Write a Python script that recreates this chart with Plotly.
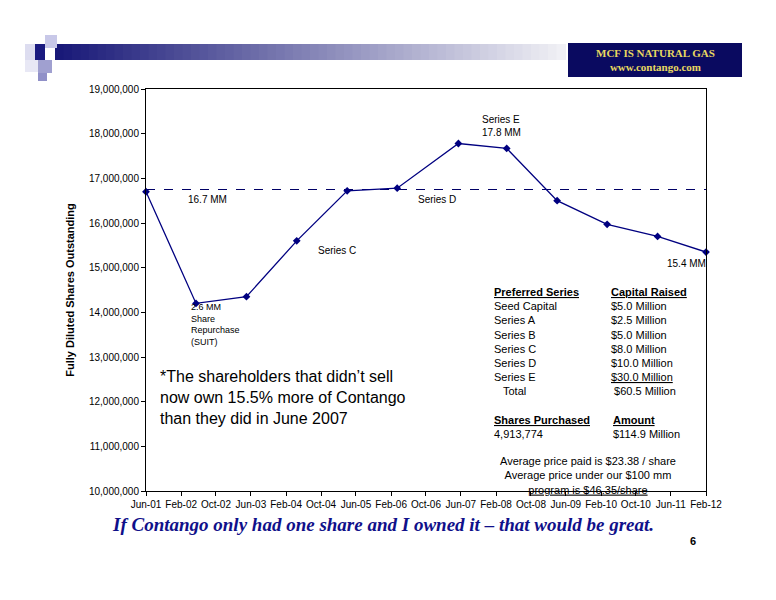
import plotly.graph_objects as go

dates = ["2001-06-01","2002-05-15","2003-05-01","2004-04-15","2005-04-01","2006-03-15",
         "2007-05-15","2008-04-15","2009-04-01","2010-03-15","2011-03-01","2012-02-01"]
shares = [16700000,14200000,14350000,15600000,16720000,16780000,
          17780000,17670000,16500000,15970000,15700000,15350000]
tick_dates = ["2001-06-01","2002-02-01","2002-10-01","2003-06-01","2004-02-01","2004-10-01",
              "2005-06-01","2006-02-01","2006-10-01","2007-06-01","2008-02-01","2008-10-01",
              "2009-06-01","2010-02-01","2010-10-01","2011-06-01","2012-02-01"]
tick_labels = ["Jun-01","Feb-02","Oct-02","Jun-03","Feb-04","Oct-04","Jun-05","Feb-06","Oct-06",
               "Jun-07","Feb-08","Oct-08","Jun-09","Feb-10","Oct-10","Jun-11","Feb-12"]
y_ticks = [10000000,11000000,12000000,13000000,14000000,15000000,16000000,17000000,18000000,19000000]
baseline = 16750000

fig = go.Figure()
fig.add_trace(go.Scatter(x=[dates[0], dates[-1]], y=[baseline, baseline], mode="lines",
                         line=dict(color="#000066", width=1, dash="dash"), hoverinfo="skip"))
fig.add_trace(go.Scatter(x=dates, y=shares, mode="lines+markers", cliponaxis=False,
                         line=dict(color="#000080", width=1.3),
                         marker=dict(symbol="diamond", size=6, color="#000080")))

F = "Liberation Sans, Arial"
fig.update_layout(
    width=760, height=584, showlegend=False, paper_bgcolor="white", plot_bgcolor="white",
    margin=dict(l=138, r=62, t=81, b=101, autoexpand=False),
    font=dict(family=F, size=10, color="black"),
    xaxis=dict(type="date", range=["2001-06-01","2012-02-01"], tickvals=tick_dates, ticktext=tick_labels,
               tickangle=0, showgrid=False, showline=True, linecolor="black", mirror=True, automargin=False,
               ticks="outside", ticklen=4, tickcolor="black", tickfont=dict(size=10)),
    yaxis=dict(range=[10000000,19000000], tickvals=y_ticks, tickformat=",d", showgrid=False, automargin=False,
               showline=True, linecolor="black", mirror=True, ticks="outside", ticklen=4,
               tickcolor="black", tickfont=dict(size=10),
               title=dict(text="<b>Fully Diluted Shares Outstanding</b>", font=dict(size=11), standoff=12)),
)

# screenshot pixel coords -> paper coords (page body has 8px margin)
def py(p):
    return (491 - p) / 402
def px(p):
    return (p - 146) / 560

n = 60
for i in range(n):
    t = i / (n - 1)
    r = int(25 + (240 - 25) * t); g = int(25 + (240 - 25) * t); b = int(120 + (245 - 120) * t)
    fig.add_shape(type="rect", xref="paper", yref="paper",
                  x0=px(55 + (565 - 55) * i / n), x1=px(55 + (565 - 55) * (i + 1) / n + 1),
                  y0=py(60), y1=py(44), line_width=0, fillcolor=f"rgb({r},{g},{b})")
for (a, b_, c, d, col) in [(25, 35, 44, 60, "#ddddf0"), (35, 45, 44, 60, "#1a1a80"), (45, 57, 35, 48, "#c8c8e8"),
                           (25, 38, 60, 72, "#e8e8f5"), (38, 52, 60, 73, "#a0a0d0"), (38, 47, 73, 81, "#9090c8")]:
    fig.add_shape(type="rect", xref="paper", yref="paper", x0=px(a), x1=px(b_), y0=py(d), y1=py(c),
                  line_width=0, fillcolor=col)
fig.add_shape(type="rect", xref="paper", yref="paper", x0=px(568), x1=px(742), y0=py(77), y1=py(43),
              line_width=0, fillcolor="#0a0a60")
fig.add_annotation(xref="paper", yref="paper", x=px(655), y=py(60), showarrow=False,
                   xanchor="center", yanchor="middle", align="center",
                   text="<b>MCF IS NATURAL GAS</b><br><b>www.contango.com</b>",
                   font=dict(family="Liberation Serif", size=11, color="#e8d860"))

def ann(x, y, text, size=10, align="left", xanchor="left", **kw):
    fig.add_annotation(xref="paper", yref="paper", x=px(x), y=py(y), text=text, showarrow=False,
                       align=align, xanchor=xanchor, yanchor="middle", font=dict(size=size, family=F, **kw))

ann(186, 199, "16.7 MM")
ann(416, 199, "Series D")
ann(480, 126, "Series E<br>17.8 MM")
ann(316, 250, "Series C")
ann(708, 263, "15.4 MM", xanchor="right")
ann(189, 324, "2.6 MM<br>Share<br>Repurchase<br>(SUIT)", size=9)
ann(158, 397, "*The shareholders that didn’t sell<br>now own 15.5% more of Contango<br>than they did in June 2007", size=16)

rows = [("<b><u>Preferred Series</u></b>", "<b><u>Capital Raised</u></b>"),
        ("Seed Capital", "$5.0 Million"), ("Series A", "$2.5 Million"), ("Series B", "$5.0 Million"),
        ("Series C", "$8.0 Million"), ("Series D", "$10.0 Million"), ("Series E", "<u>$30.0 Million</u>"),
        ("   Total", " $60.5 Million")]
for i, (a, b_) in enumerate(rows):
    y = 292 + i * 14.2
    ann(492, y, a, size=11); ann(609, y, b_, size=11)
ann(492, 420, "<b><u>Shares Purchased</u></b>", size=11); ann(611, 420, "<b><u>Amount</u></b>", size=11)
ann(492, 434, "4,913,774", size=11); ann(611, 434, "$114.9 Million", size=11)
ann(588, 475, "Average price paid is $23.38 / share<br>Average price under our $100 mm<br><u>program is $46.35/share</u>",
    size=11, align="center", xanchor="center")

fig.add_annotation(xref="paper", yref="paper", x=px(383), y=py(537), showarrow=False,
                   text="<b><i>If Contango only had one share and I owned it – that would be great.</i></b>",
                   font=dict(family="Liberation Serif", size=19, color="#10108a"))
ann(688, 541, "<b>6</b>", size=11)

fig.write_html("out.html")
